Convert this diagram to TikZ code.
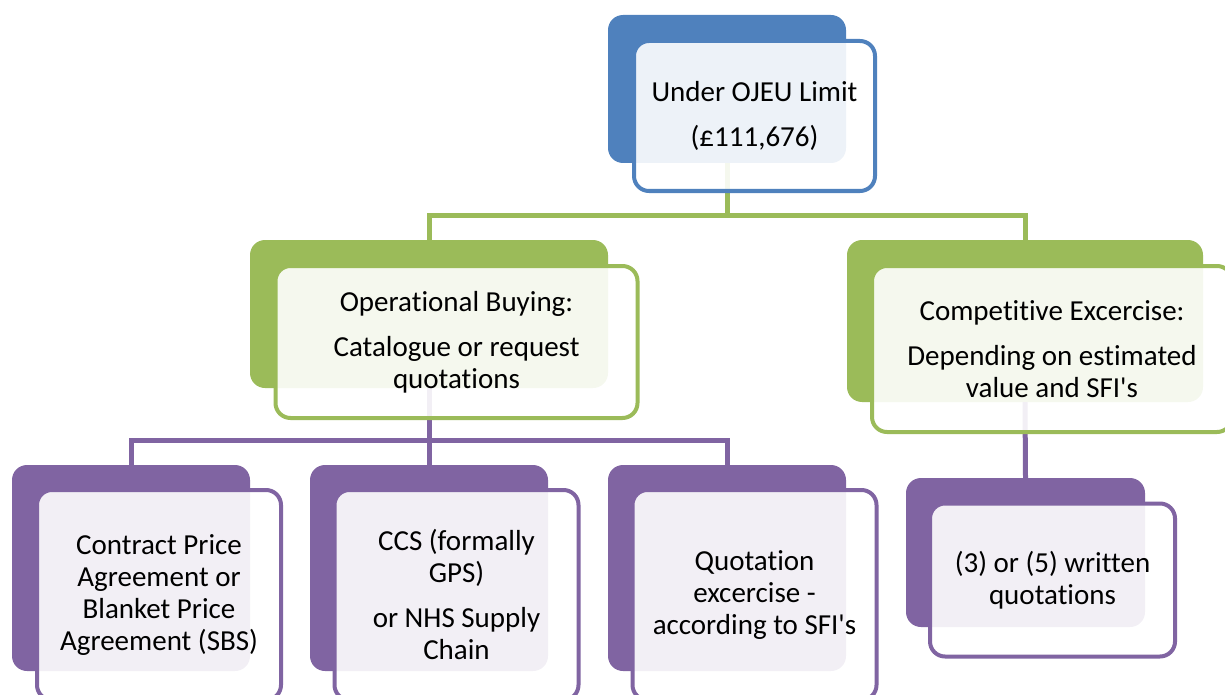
\documentclass[tikz,border=0pt]{standalone}
\usepackage{fontspec}
\setmainfont{Carlito}[Ligatures={NoCommon}]
\definecolor{cblue}{HTML}{4F81BD}
\definecolor{cgreen}{HTML}{9BBB59}
\definecolor{cpurple}{HTML}{8064A2}
\begin{document}
\begin{tikzpicture}[x=1pt,y=-1pt,
  backbox/.style={fill=#1, draw=none, rounded corners=15pt, inner sep=0pt},
  frontbox/.style={draw=#1, line width=4pt, fill=white, fill opacity=0.9, text opacity=1,
    rounded corners=15pt, inner sep=0pt, align=center, font=\fontsize{29}{32}\selectfont},
  conn/.style={draw=#1, line width=5pt}
]
\useasboundingbox (0,0) rectangle (1225,695);
\clip (0,0) rectangle (1225,695);
% back boxes
\node[backbox=cblue, minimum width=238, minimum height=148] (b0) at (727,89) {};
\node[backbox=cgreen, minimum width=358, minimum height=148] (b1) at (429,314) {};
\node[backbox=cgreen, minimum width=356, minimum height=162] (b2) at (1025,321) {};
\node[backbox=cpurple, minimum width=238, minimum height=206] (b3) at (131,568) {};
\node[backbox=cpurple, minimum width=238, minimum height=206] (b4) at (429,568) {};
\node[backbox=cpurple, minimum width=238, minimum height=206] (b5) at (727,568) {};
\node[backbox=cpurple, minimum width=239, minimum height=149] (b6) at (1025.5,552.5) {};
% connectors
\coordinate (jG) at (727,215);
\coordinate (jP) at (429,440);
\draw[conn=cgreen] (b0.south) -- (jG);
\draw[conn=cgreen] (b1.north) |- (jG);
\draw[conn=cgreen] (b2.north) |- (jG);
\draw[conn=cpurple] (b1.south) -- (jP);
\draw[conn=cpurple] (b3.north) |- (jP);
\draw[conn=cpurple] (b4.north) -- (jP);
\draw[conn=cpurple] (b5.north) |- (jP);
\draw[conn=cpurple] (b2.south) -- (b6.north);
% front boxes
\node[frontbox=cblue, minimum width=241, minimum height=150] (f0) at (754.5,116)
  {Under OJEU Limit\\[13pt](£111,676)};
\node[frontbox=cgreen, minimum width=362, minimum height=152] (f1) at (456.5,342)
  {Operational Buying:\\[13pt]Catalogue or request\\quotations};
\node[frontbox=cgreen, minimum width=360, minimum height=166] (f2) at (1052,349)
  {Competitive Excercise:\\[13pt]Depending on estimated\\value and SFI\textquotesingle s};
\node[frontbox=cpurple, minimum width=244, minimum height=210] (f3) at (159,595)
  {Contract Price\\Agreement or\\Blanket Price\\Agreement (SBS)};
\node[frontbox=cpurple, minimum width=244, minimum height=210] (f4) at (456.5,595)
  {CCS (formally\\GPS)\\[13pt]or NHS Supply\\Chain};
\node[frontbox=cpurple, minimum width=244, minimum height=210] (f5) at (754.5,595)
  {Quotation\\excercise -\\according to SFI\textquotesingle s};
\node[frontbox=cpurple, minimum width=245, minimum height=153] (f6) at (1052.5,580)
  {(3) or (5) written\\quotations};
\end{tikzpicture}
\end{document}
